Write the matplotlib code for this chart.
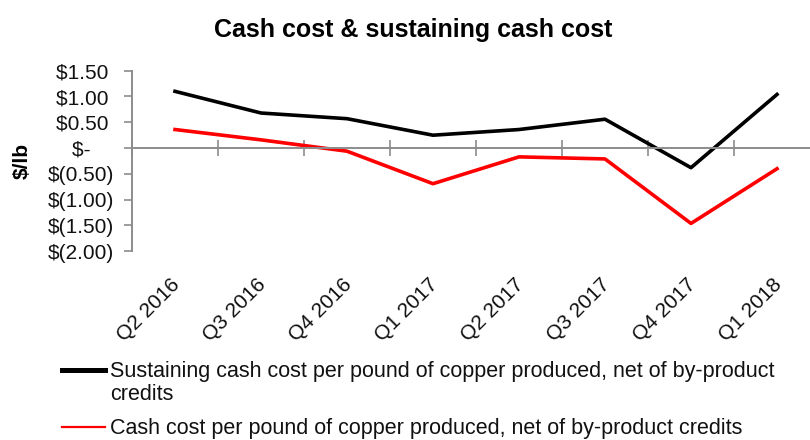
import matplotlib
matplotlib.use("Agg")
import matplotlib.pyplot as plt
import numpy as np
from matplotlib.lines import Line2D

plt.rcParams["font.family"] = ["Liberation Sans", "DejaVu Sans"]

categories = ["Q2 2016", "Q3 2016", "Q4 2016", "Q1 2017",
              "Q2 2017", "Q3 2017", "Q4 2017", "Q1 2018"]
sustaining_cost = [1.10, 0.68, 0.57, 0.25, 0.36, 0.56, -0.38, 1.04]
cash_cost = [0.36, 0.16, -0.06, -0.69, -0.17, -0.21, -1.46, -0.40]

series_names = [
    "Sustaining cash cost per pound of copper produced, net of by-product\ncredits",
    "Cash cost per pound of copper produced, net of by-product credits",
]
series_colors = ["#000000", "#ff0000"]

y_ticks = [1.5, 1.0, 0.5, 0.0, -0.5, -1.0, -1.5, -2.0]
y_labels = ["$1.50 ", "$1.00 ", "$0.50 ", "$-    ",
            "$(0.50)", "$(1.00)", "$(1.50)", "$(2.00)"]

W, H = 810, 440
fig = plt.figure(figsize=(W / 100, H / 100), dpi=100)

# plot area in pixels (left, top, right, bottom); right runs past the image like the original
left, top, right, bottom = 132, 70.7, 820, 251.3
ax = fig.add_axes([left / W, 1 - bottom / H, (right - left) / W, (bottom - top) / H])

x = np.arange(len(categories))
ax.plot(x, sustaining_cost, color=series_colors[0], lw=2.6, solid_joinstyle="round")
ax.plot(x, cash_cost, color=series_colors[1], lw=2.6, solid_joinstyle="round")

ax.set_xlim(-0.5, len(categories) - 0.5)
ax.set_ylim(-2.0, 1.5)

axis_grey = "#8c8c8c"
for side in ["top", "right"]:
    ax.spines[side].set_visible(False)
ax.spines["left"].set_color(axis_grey)
ax.spines["left"].set_linewidth(1.4)
ax.spines["bottom"].set_position(("data", 0))
ax.spines["bottom"].set_color(axis_grey)
ax.spines["bottom"].set_linewidth(1.4)

ax.set_yticks(y_ticks)
ax.set_yticklabels(y_labels)
ax.tick_params(axis="y", length=6, width=1.2, color=axis_grey, pad=7,
               labelsize=15, labelcolor="#111111")

# category ticks sit between categories, crossing the zero line
ax.set_xticks(np.arange(-0.5, len(categories), 1))
ax.set_xticklabels([])
ax.tick_params(axis="x", direction="inout", length=12, width=1.2, color=axis_grey)

for i, lab in enumerate(categories):
    ax.annotate(lab, xy=(i, 0), xycoords=("data", "axes fraction"),
                xytext=(2, -30), textcoords="offset pixels",
                rotation=45, rotation_mode="anchor", ha="right", va="center",
                fontsize=15, color="#111111")

fig.text(413 / W, 1 - 30 / H, "Cash cost & sustaining cash cost",
         ha="center", va="center", fontsize=18, fontweight="bold")
fig.text(22 / W, 1 - 161 / H, "$/lb", rotation=90, ha="center", va="center",
         fontsize=15, fontweight="bold")

# legend below the plot
legend_rows = [370, 427]
handle_widths = [3.6, 1.6]
for name, color, row, lw in zip(series_names, series_colors, legend_rows, handle_widths):
    fig.add_artist(Line2D([62 / W, 105 / W], [1 - row / H, 1 - row / H],
                          color=color, lw=lw, transform=fig.transFigure))
    fig.text(110 / W, 1 - (row - 9) / H, name, ha="left", va="top",
             fontsize=15.5, linespacing=1.12, color="#111111")

fig.savefig("out.png", dpi=100)
